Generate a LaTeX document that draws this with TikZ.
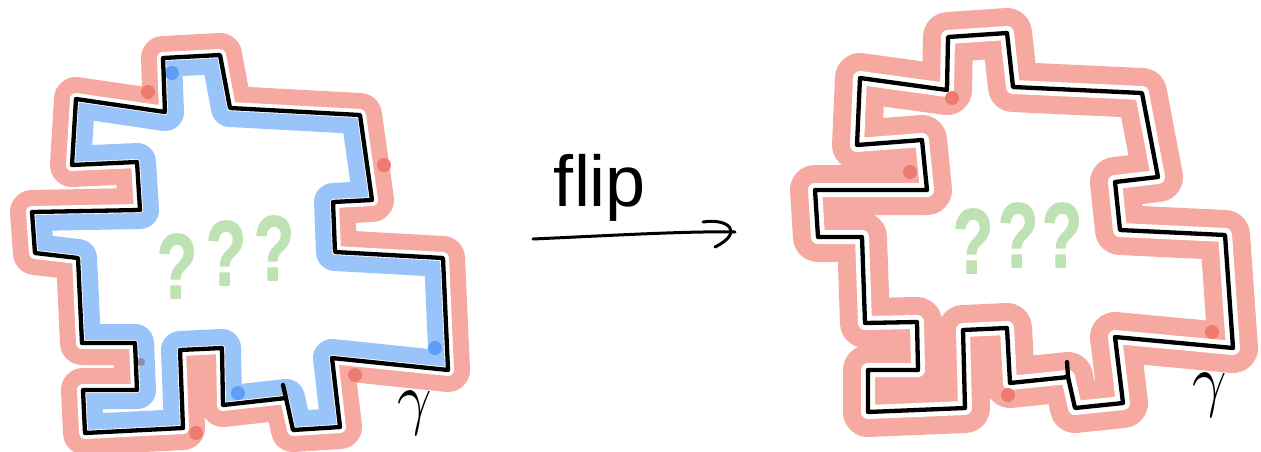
\documentclass[tikz,border=0pt]{standalone}
\usepackage{fontspec}
\newfontfamily\handfont{Liberation Sans}
\newfontfamily\qfont{Liberation Sans Bold}[FakeBold=1.6]
\definecolor{bandred}{HTML}{F5A9A0}
\definecolor{dotred}{HTML}{EE7B70}
\definecolor{bandblue}{HTML}{98C4FA}
\definecolor{dotblue}{HTML}{5E9EF5}
\definecolor{dotgrey}{HTML}{8E8FA6}
\definecolor{qgreen}{HTML}{BEE2B4}
\begin{document}
\begin{tikzpicture}[x=1pt,y=-1pt,line join=round,line cap=round,
  curve/.style={draw=black,line width=4.3},
  reddot/.style={fill=dotred},
  bluedot/.style={fill=dotblue},
  qmark/.style={text=qgreen,font=\qfont\fontsize{92}{92}\selectfont,xscale=0.72,inner sep=0pt},
  gammalabel/.style={xscale=6,yscale=7}]
\useasboundingbox (0,0) rectangle (1261,451);
\def\Lpath{(76,99) -- (165,112) -- (163,58) -- (220,55) -- (230,108) -- (360,115) -- (372,200) -- (333,202) -- (335,252) -- (443,258) -- (448,370) -- (332,358) -- (340,427) -- (293,430) -- (286,398) -- (223,405) -- (222,348) -- (180,350) -- (183,428) -- (85,433) -- (83,390) -- (137,390) -- (135,343) -- (82,343) -- (78,258) -- (35,253) -- (32,212) -- (140,210) -- (137,162) -- (72,165) -- cycle}
\def\Rpath{(860,78) -- (947,90) -- (948,37) -- (1007,33) -- (1013,87) -- (1142,93) -- (1158,177) -- (1115,182) -- (1120,230) -- (1225,235) -- (1233,348) -- (1115,337) -- (1123,403) -- (1075,408) -- (1068,377) -- (1010,383) -- (1007,328) -- (963,330) -- (965,408) -- (868,412) -- (868,370) -- (918,370) -- (917,322) -- (865,323) -- (862,237) -- (818,237) -- (815,190) -- (927,190) -- (922,140) -- (857,145) -- cycle}
% ---------- left figure ----------
\draw[bandred,line width=44] \Lpath;
\draw[white,line width=12] \Lpath;
\fill[white] \Lpath;
\begin{scope}
  \clip \Lpath;
  \draw[bandblue,line width=38] \Lpath;
  \draw[white,line width=6] \Lpath;
\end{scope}
\fill[reddot] (148,92) circle (7);
\fill[reddot] (384,165) circle (7);
\fill[reddot] (355,375) circle (7);
\fill[reddot] (196,433) circle (7);
\fill[bluedot] (172,73) circle (7);
\fill[bluedot] (435,348) circle (7);
\fill[bluedot] (238,393) circle (7);
\fill[dotgrey] (141,362) circle (4);
\draw[curve] \Lpath;
\draw[curve] (286,398) -- (283,385);
\node[qmark] (qL1) at (177,266) {?};
\node[qmark] (qL2) at (226,253) {?};
\node[qmark] (qL3) at (274,248) {?};
\node[gammalabel] (gL) at (415,413) {$\gamma$};
% ---------- arrow ----------
\coordinate (aS) at (533,239);
\coordinate (aE) at (735,232);
\coordinate (hA) at (703,222);
\coordinate (hB) at (715,247);
\draw[line width=3] (aS) .. controls (620,235) and (690,231) .. (aE);
\draw[line width=3] (hA) .. controls (728,218) and (745,232) .. (hB);
\node[font=\handfont\fontsize{72}{72}\selectfont,anchor=base] (flip) at (600,206) {flip};
% ---------- right figure ----------
\draw[bandred,line width=50] \Rpath;
\draw[white,line width=14] \Rpath;
\fill[white] \Rpath;
\begin{scope}
  \clip \Rpath;
  \draw[bandred,line width=50] \Rpath;
  \draw[white,line width=14] \Rpath;
\end{scope}
\fill[reddot] (952,98) circle (7);
\fill[reddot] (910,172) circle (7);
\fill[reddot] (1212,332) circle (7);
\fill[reddot] (1008,395) circle (7);
\draw[curve] \Rpath;
\draw[curve] (1068,377) -- (1067,362);
\node[qmark] (qR1) at (973,241) {?};
\node[qmark] (qR2) at (1018,235) {?};
\node[qmark] (qR3) at (1062,235) {?};
\node[gammalabel] (gR) at (1210,395) {$\gamma$};
\end{tikzpicture}
\end{document}
